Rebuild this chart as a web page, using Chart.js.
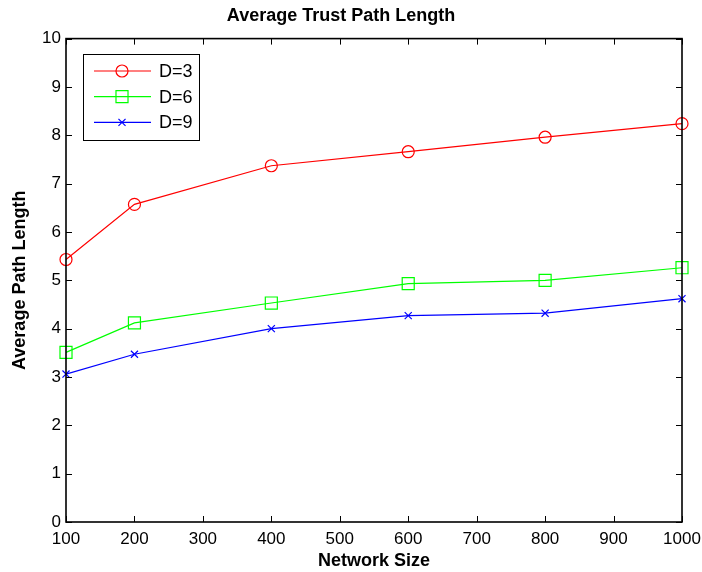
<!DOCTYPE html>
<html>
<head>
<meta charset="utf-8">
<script src="https://cdn.jsdelivr.net/npm/chart.js@4/dist/chart.umd.min.js"></script>
<style>
  html, body { margin: 0; padding: 0; background: #fff; }
  #wrap { width: 702px; height: 572px; }
</style>
</head>
<body>
<div id="wrap"><canvas id="chart" width="702" height="572"></canvas></div>
<script>
// network sizes (x) and average path length per D
var sizes = [100, 200, 400, 600, 800, 1000];
var d3 = [5.43, 6.57, 7.37, 7.66, 7.96, 8.24];
var d6 = [3.51, 4.12, 4.53, 4.93, 5.00, 5.26];
var d9 = [3.06, 3.47, 4.00, 4.27, 4.32, 4.62];
var labels = ['D=3', 'D=6', 'D=9'];

var FONT = "'Liberation Sans', Arial, sans-serif";

function pts(vals) {
	return sizes.map(function (s, i) { return { x: s, y: vals[i] }; });
}

// MATLAB style frame: full box + inward ticks on all four sides
var frame = {
	id: 'frame',
	afterDatasetsDraw: function (chart) {
		var ctx = chart.ctx, a = chart.chartArea;
		var xs = chart.scales.x, ys = chart.scales.y;
		var len = 6;
		ctx.save();
		ctx.strokeStyle = '#000';
		ctx.lineWidth = 1;
		ctx.beginPath();
		xs.ticks.forEach(function (t) {
			var x = Math.round(xs.getPixelForValue(t.value)) + 0.5;
			ctx.moveTo(x, a.bottom); ctx.lineTo(x, a.bottom - len);
			ctx.moveTo(x, a.top); ctx.lineTo(x, a.top + len);
		});
		ys.ticks.forEach(function (t) {
			var y = Math.round(ys.getPixelForValue(t.value)) + 0.5;
			ctx.moveTo(a.left, y); ctx.lineTo(a.left + len, y);
			ctx.moveTo(a.right, y); ctx.lineTo(a.right - len, y);
		});
		ctx.stroke();
		ctx.lineWidth = 1.6;
		ctx.strokeRect(a.left, a.top, a.right - a.left, a.bottom - a.top);
		ctx.restore();
	}
};

function marker(ctx, style, r, x, y) {
	ctx.beginPath();
	if (style === 'circle') {
		ctx.arc(x, y, r, 0, Math.PI * 2);
	} else if (style === 'rect') {
		var s = r * Math.SQRT1_2;
		ctx.rect(x - s, y - s, 2 * s, 2 * s);
	} else {
		var o = r * Math.SQRT1_2;
		ctx.moveTo(x - o, y - o); ctx.lineTo(x + o, y + o);
		ctx.moveTo(x - o, y + o); ctx.lineTo(x + o, y - o);
	}
	ctx.stroke();
}

// boxed legend with line + marker samples
var boxLegend = {
	id: 'boxLegend',
	afterDraw: function (chart) {
		var ctx = chart.ctx;
		ctx.save();
		ctx.fillStyle = '#fff';
		ctx.fillRect(83, 54, 116, 86);
		ctx.strokeStyle = '#000';
		ctx.lineWidth = 1;
		ctx.strokeRect(83.5, 54.5, 116, 86);
		chart.data.datasets.forEach(function (ds, i) {
			var y = 71 + i * 25.7;
			ctx.strokeStyle = ds.borderColor;
			ctx.lineWidth = ds.borderWidth;
			ctx.beginPath();
			ctx.moveTo(94, y); ctx.lineTo(151, y);
			ctx.stroke();
			marker(ctx, ds.pointStyle, ds.pointRadius, 122, y);
			ctx.fillStyle = '#000';
			ctx.font = '18px ' + FONT;
			ctx.textBaseline = 'middle';
			ctx.fillText(ds.label, 159, y + 1);
		});
		ctx.restore();
	}
};

function series(label, vals, color, style, r) {
	return {
		label: label,
		data: pts(vals),
		borderColor: color,
		backgroundColor: 'rgba(0,0,0,0)',
		borderWidth: 1.2,
		pointStyle: style,
		pointRadius: r,
		pointHoverRadius: r,
		pointBorderColor: color,
		pointBackgroundColor: 'rgba(0,0,0,0)',
		pointBorderWidth: 1.2,
		tension: 0,
		clip: false
	};
}

var ctx = document.getElementById('chart').getContext('2d');
new Chart(ctx, {
	type: 'line',
	data: {
		datasets: [
			series(labels[0], d3, '#ff0000', 'circle', 6),
			series(labels[1], d6, '#00ff00', 'rect', 8.5),
			series(labels[2], d9, '#0000ff', 'crossRot', 5)
		]
	},
	options: {
		responsive: false,
		animation: false,
		devicePixelRatio: 1,
		layout: { padding: { top: 0, left: 0, right: 20, bottom: 0 } },
		plugins: {
			legend: { display: false },
			tooltip: { enabled: false },
			title: {
				display: true,
				text: 'Average Trust Path Length',
				color: '#000',
				font: { family: FONT, size: 18, weight: 'bold' },
				padding: { top: 5, bottom: 12 }
			}
		},
		scales: {
			x: {
				type: 'linear',
				min: 100,
				max: 1000,
				afterFit: function (s) { s.height = 50; s.paddingLeft = 0; s.paddingRight = 0; },
				grid: { display: false, drawTicks: false },
				border: { display: false },
				ticks: {
					stepSize: 100,
					padding: 7,
					color: '#000',
					maxRotation: 0,
					font: { family: FONT, size: 17 },
					callback: function (v) { return String(v); }
				},
				title: {
					display: true,
					text: 'Network Size',
					color: '#000',
					font: { family: FONT, size: 18, weight: 'bold' },
					padding: { top: 0, bottom: 0 }
				}
			},
			y: {
				min: 0,
				max: 10,
				afterFit: function (s) { s.width = 66; },
				grid: { display: false, drawTicks: false },
				border: { display: false },
				ticks: {
					stepSize: 1,
					padding: 5,
					color: '#000',
					font: { family: FONT, size: 17 }
				},
				title: {
					display: true,
					text: 'Average Path Length',
					color: '#000',
					font: { family: FONT, size: 18, weight: 'bold' },
					padding: { top: 9, bottom: 0 }
				}
			}
		}
	},
	plugins: [frame, boxLegend]
});
</script>
</body>
</html>
